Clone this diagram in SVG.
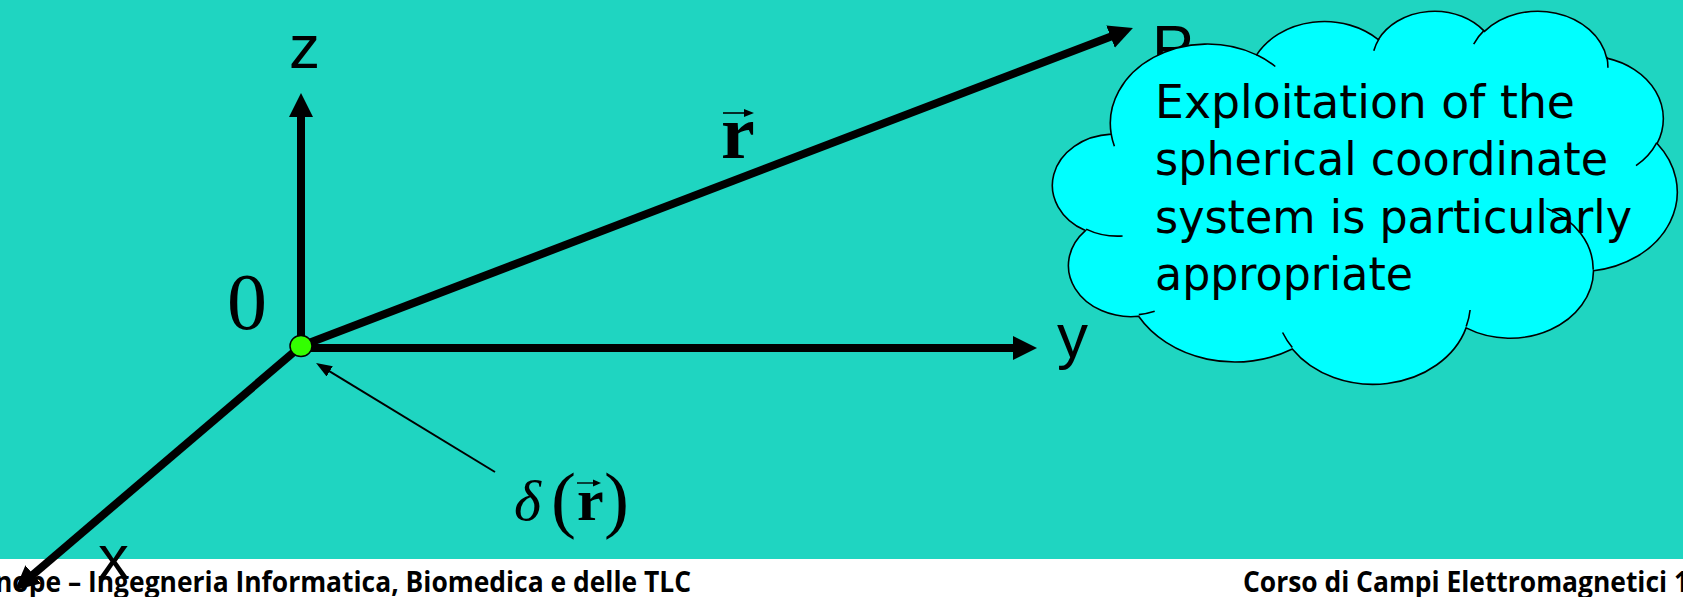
<svg xmlns="http://www.w3.org/2000/svg" width="1683" height="597" viewBox="0 0 1683 597">
<style>
.axis{stroke:#000;stroke-width:8;fill:none}
.lbl{font-family:"Liberation Sans",Arial,sans-serif;font-size:62px;fill:#000}
.ser{font-family:"Liberation Serif","Times New Roman",serif;fill:#000}
.cloudtxt{font-family:"DejaVu Sans","Comic Sans MS",sans-serif;font-size:47px;fill:#000}
.foot{font-family:"Open Sans","Liberation Sans",sans-serif;font-size:28px;font-weight:700;fill:#000}
.crease{fill:none;stroke:#000;stroke-width:1.6}
</style>
<defs>
<marker id="ah" viewBox="0 0 24 24" markerUnits="userSpaceOnUse" markerWidth="24" markerHeight="24" refX="2" refY="12" orient="auto">
<path d="M0,0 L24,12 L0,24 Z" fill="#000"/>
</marker>
<marker id="ahs" viewBox="0 0 16 12" markerUnits="userSpaceOnUse" markerWidth="16" markerHeight="12" refX="2" refY="6" orient="auto">
<path d="M0,0 L16,6 L0,12 Z" fill="#000"/>
</marker>
</defs>
<rect x="0" y="0" width="1683" height="559" fill="#1FD5C1"/>
<rect x="0" y="559" width="1683" height="38" fill="#FFFFFF"/>
<g id="footer">
<text class="foot" x="-5" y="592" textLength="696" lengthAdjust="spacingAndGlyphs">nope – Ingegneria Informatica, Biomedica e delle TLC</text>
<text class="foot" x="1243" y="592" textLength="446" lengthAdjust="spacingAndGlyphs">Corso di Campi Elettromagnetici 1</text>
</g>
<g id="connectors">
<line id="z-axis" class="axis" x1="301" y1="349" x2="301" y2="115" marker-end="url(#ah)"/>
<line id="y-axis" class="axis" x1="301" y1="348" x2="1015" y2="348" marker-end="url(#ah)"/>
<line id="x-axis" class="axis" x1="301" y1="346" x2="31.7" y2="575.7" marker-end="url(#ah)"/>
<line id="r-vector" class="axis" x1="301" y1="346" x2="1112.4" y2="35.9" marker-end="url(#ah)"/>
<line id="delta-pointer" x1="495" y1="472" x2="328" y2="370.3" stroke="#000" stroke-width="2" marker-end="url(#ahs)"/>
</g>
<g id="origin">
<ellipse cx="301" cy="346" rx="11" ry="10.5" fill="#33FF00" stroke="#000" stroke-width="1.5"/>
<text class="ser" x="227" y="329" font-size="80">0</text>
</g>
<g id="label-z"><text class="lbl" x="289" y="68">z</text></g>
<g id="label-y"><text class="lbl" x="1057" y="357">y</text></g>
<g id="label-x"><text class="lbl" x="98" y="578">x</text></g>
<g id="label-P"><text class="lbl" x="1152" y="68">P</text></g>
<g id="label-r">
<text class="ser" x="721" y="158" font-size="76" font-weight="700">r</text>
<line x1="723" y1="113" x2="746" y2="113" stroke="#000" stroke-width="1.6"/>
<path d="M754,113 L744,109 L744,117 Z" fill="#000"/>
</g>
<g id="label-delta">
<text class="ser" x="514" y="520" font-size="58" font-style="italic">δ</text>
<text class="ser" x="551" y="524" font-size="75">(</text>
<text class="ser" x="577" y="520" font-size="60" font-weight="700">r</text>
<text class="ser" x="604" y="524" font-size="75">)</text>
<line x1="577" y1="483" x2="594" y2="483" stroke="#000" stroke-width="1.4"/>
<path d="M601,483 L593,479.5 L593,486.5 Z" fill="#000"/>
</g>
<g id="cloud">
<path d="M 1111.2 134.1 A 97.23 79.35 0 0 1 1256.6 54.9 A 76.78 62.75 0 0 1 1378.3 39.6 A 62.85 51.33 0 0 1 1484.5 31.4 A 69.93 56.94 0 0 1 1606.7 58.1 A 76.78 62.80 0 0 1 1657.1 143.5 A 97.55 79.61 0 0 1 1593.5 270.8 A 83.29 67.93 0 0 1 1466.1 327.9 A 97.22 79.56 0 0 1 1292.3 349.0 A 111.15 91.03 0 0 1 1138.6 316.3 A 62.78 51.10 0 0 1 1085.4 230.6 A 62.56 51.33 0 0 1 1111.2 134.1 Z" fill="#00FFFF" stroke="#000" stroke-width="1.6"/>
<path class="crease" d="M 1122.6 236.0 A 62.56 51.33 0 0 1 1086.1 229.1 M 1154.7 311.3 A 62.78 51.10 0 0 1 1138.8 314.6 M 1292.3 347.5 A 97.22 79.56 0 0 1 1282.6 332.5 M 1470.1 310.0 A 97.22 79.56 0 0 1 1466.2 326.5 M 1546.4 208.2 A 83.29 67.93 0 0 1 1593.2 269.8 M 1656.8 142.6 A 76.78 62.80 0 0 1 1636.0 165.7 M 1606.8 56.8 A 69.93 56.94 0 0 1 1607.9 67.8 M 1473.7 44.1 A 69.93 56.94 0 0 1 1484.4 30.2 M 1373.8 50.8 A 62.85 51.33 0 0 1 1379.0 38.8 M 1256.6 54.8 A 97.23 79.35 0 0 1 1275.3 66.5 M 1114.4 146.3 A 97.23 79.35 0 0 1 1111.2 134.1"/>
<text class="cloudtxt" x="1155" y="118" textLength="420" lengthAdjust="spacingAndGlyphs">Exploitation of the</text>
<text class="cloudtxt" x="1155" y="175" textLength="453" lengthAdjust="spacingAndGlyphs">spherical coordinate</text>
<text class="cloudtxt" x="1155" y="233" textLength="477" lengthAdjust="spacingAndGlyphs">system is particularly</text>
<text class="cloudtxt" x="1155" y="290" textLength="258" lengthAdjust="spacingAndGlyphs">appropriate</text>
</g>
</svg>
